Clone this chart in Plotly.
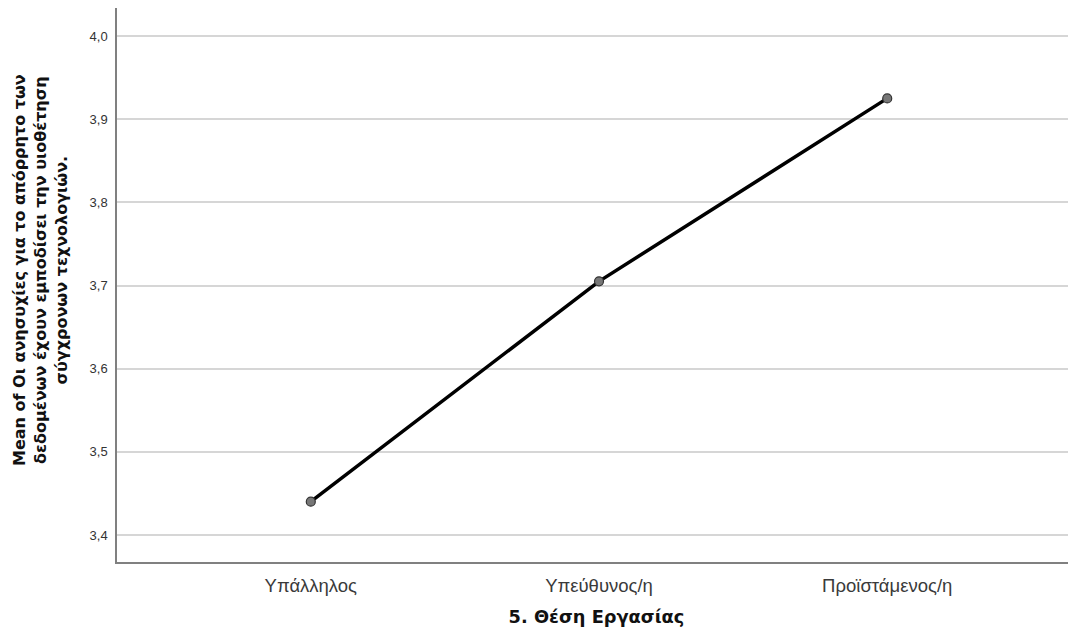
import plotly.graph_objects as go

categories = ["Υπάλληλος", "Υπεύθυνος/η", "Προϊστάμενος/η"]
means = [3.44, 3.705, 3.925]
y_ticks = [3.4, 3.5, 3.6, 3.7, 3.8, 3.9, 4.0]

x_pos = list(range(len(categories)))

fig = go.Figure()
fig.add_trace(go.Scatter(
    x=x_pos, y=means, mode="lines+markers",
    line=dict(color="black", width=3.5),
    marker=dict(size=9, color="#777777", line=dict(color="#333333", width=1.2)),
    showlegend=False,
))

fig.update_layout(
    width=1068, height=633,
    margin=dict(l=109, r=0, t=0, b=79),
    paper_bgcolor="white", plot_bgcolor="white",
    separators=",.",
    font=dict(family="Liberation Sans, Arial, sans-serif", color="#222222"),
    xaxis=dict(
        range=[-0.6724, 2.655],
        tickvals=x_pos, ticktext=categories,
        tickfont=dict(family="Liberation Sans", size=18.5, color="#3a3a3a"),
        showgrid=False, zeroline=False,
        showline=True, linecolor="#808080", linewidth=1.5,
        ticks="", ticklabelstandoff=6,
        title=dict(text="<b>5. Θέση Εργασίας</b>",
                   font=dict(family="DejaVu Sans", size=17.8, color="#111111"), standoff=16),
    ),
    yaxis=dict(
        range=[3.3675, 4.0337],
        tickvals=y_ticks, tickformat=".1f",
        tickfont=dict(size=13, color="#333333"),
        showgrid=True, gridcolor="#d6d6d6", gridwidth=1.5,
        zeroline=False,
        showline=True, linecolor="#808080", linewidth=1.5,
        ticks="", ticklabelstandoff=5,
    ),
    annotations=[dict(
        text="<b>Mean of Οι ανησυχίες για το απόρρητο των<br>δεδομένων έχουν εμποδίσει την υιοθέτηση<br>σύγχρονων τεχνολογιών.</b>",
        xref="paper", yref="paper", x=0, y=0.5,
        xanchor="center", yanchor="middle", xshift=-77, yshift=15,
        textangle=-90, showarrow=False, align="center",
        font=dict(family="DejaVu Sans", size=16, color="#111111"),
    )],
)

fig.write_html("out.html")
